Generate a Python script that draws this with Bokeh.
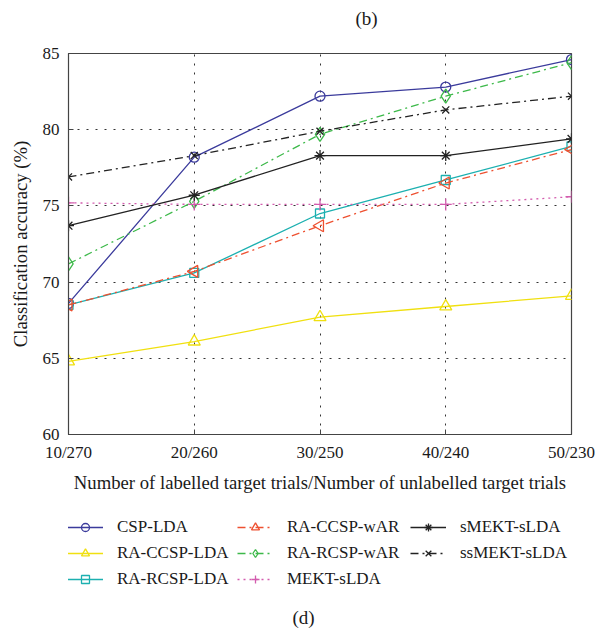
import math
from bokeh.plotting import figure
from bokeh.layouts import column
from bokeh.models import Range1d, FixedTicker, Legend, LegendItem, Label
from bokeh.embed import file_html
from bokeh.resources import INLINE

# ---------------- data ----------------
trials = ["10/270", "20/260", "30/250", "40/240", "50/230"]
y_ticks = [60, 65, 70, 75, 80, 85]

csp_lda = [68.6, 78.2, 82.2, 82.8, 84.6]
ra_ccsp_lda = [64.8, 66.1, 67.7, 68.4, 69.1]
ra_rcsp_lda = [68.5, 70.6, 74.5, 76.7, 78.9]
ra_ccsp_war = [68.5, 70.7, 73.7, 76.5, 78.7]
ra_rcsp_war = [71.2, 75.3, 79.7, 82.2, 84.4]
mekt_slda = [75.2, 75.1, 75.1, 75.1, 75.6]
smekt_slda = [73.7, 75.7, 78.3, 78.3, 79.4]
ssmekt_slda = [76.9, 78.3, 79.9, 81.3, 82.2]

FONT = "Liberation Serif"
FS = "17px"
AX = "#444444"
TXT = "#1a1a1a"
W = 600

xs = list(range(len(trials)))

series = [
    ("CSP-LDA", csp_lda, "#3b3b9c", "solid", "circle", 10, 0.0),
    ("RA-CCSP-LDA", ra_ccsp_lda, "#f0e010", "solid", "triangle", 12, 0.0),
    ("RA-RCSP-LDA", ra_rcsp_lda, "#1cb0b0", "solid", "square", 9, 0.0),
    ("RA-CCSP-wAR", ra_ccsp_war, "#ee5030", "8 4 2 4", "triangle", 12, math.pi / 2),
    ("RA-RCSP-wAR", ra_rcsp_war, "#3db94a", "8 4 2 4", "diamond", 14, 0.0),
    ("MEKT-sLDA", mekt_slda, "#d35cae", "2 4", "cross", 12, 0.0),
    ("sMEKT-sLDA", smekt_slda, "#222222", "solid", "asterisk", 11, 0.0),
    ("ssMEKT-sLDA", ssmekt_slda, "#222222", "8 4 2 4", "x", 10, 0.0),
]


def blank(h):
    f = figure(width=W, height=h, output_backend="svg", toolbar_location=None,
               x_axis_type=None, y_axis_type=None, x_range=Range1d(0, 1),
               y_range=Range1d(0, 1), min_border=0)
    f.outline_line_color = None
    f.grid.visible = False
    return f


# ---------------- top caption ----------------
p0 = blank(36)
p0.add_layout(Label(x=298, y=18, x_units="screen", y_units="screen", text="(b)",
                    text_align="center", text_baseline="middle",
                    text_font=FONT, text_font_size="19px", text_color=TXT))

# ---------------- main chart ----------------
p = figure(width=W, height=462, output_backend="svg", toolbar_location=None,
           x_range=Range1d(0, len(trials) - 1), y_range=Range1d(60, 85),
           min_border_left=68, min_border_right=29, min_border_top=17,
           min_border_bottom=64)
p.outline_line_color = AX
p.outline_line_width = 1.2

xa = p.xaxis[0]
xa.ticker = FixedTicker(ticks=xs)
xa.major_label_overrides = {i: t for i, t in enumerate(trials)}
ya = p.yaxis[0]
ya.ticker = FixedTicker(ticks=y_ticks)
for a in (xa, ya):
    a.major_tick_in = 5
    a.major_tick_out = 0
    a.minor_tick_line_color = None
    a.axis_line_color = AX
    a.major_tick_line_color = AX
    a.major_label_text_font = FONT
    a.major_label_text_font_size = FS
    a.major_label_text_color = TXT
    a.axis_label_text_font = FONT
    a.axis_label_text_font_size = "18.7px"
    a.axis_label_text_font_style = "normal"
    a.axis_label_text_color = TXT
xa.major_label_standoff = 8
ya.major_label_standoff = 9
xa.axis_label = "Number of labelled target trials/Number of unlabelled target trials"
ya.axis_label = "Classification accuracy (%)"
xa.axis_label_standoff = 7
ya.axis_label_standoff = 9

p.xgrid.ticker = FixedTicker(ticks=xs)
p.ygrid.ticker = FixedTicker(ticks=y_ticks)
for g in (p.xgrid, p.ygrid):
    g.grid_line_color = "#333333"
    g.grid_line_dash = "2 7"
    g.grid_line_width = 1

for name, vals, color, dash, marker, size, ang in series:
    p.line(xs, vals, line_color=color, line_width=1.3, line_dash=dash)
    p.scatter(xs, vals, marker=marker, size=size, angle=ang,
              line_color=color, fill_color=None, line_width=1.3)

# ---------------- legend + bottom caption ----------------
# (this figure's frame is aligned to the main frame, which starts 68 px in)
p2 = blank(131)
items = []
for name, vals, color, dash, marker, size, ang in series:
    lr = p2.line([-10, -9], [-10, -9], line_color=color, line_width=1.3, line_dash=dash)
    sr = p2.scatter([-10], [-10], marker=marker, size=size, angle=ang,
                    line_color=color, fill_color=None, line_width=1.3)
    items.append(LegendItem(label=name, renderers=[lr, sr]))

groups = [(items[0:3], -1, 40), (items[3:6], 169, 40), (items[6:8], 342, 66)]
for its, lx, ly in groups:
    lg = Legend(items=its, location=(lx, ly), orientation="vertical")
    lg.label_text_font = FONT
    lg.label_text_font_size = FS
    lg.label_text_color = TXT
    lg.glyph_width = 36
    lg.glyph_height = 20
    lg.label_height = 20
    lg.label_standoff = 14
    lg.spacing = 6
    lg.padding = 0
    lg.margin = 0
    lg.border_line_color = None
    lg.background_fill_alpha = 0
    p2.add_layout(lg)

p2.add_layout(Label(x=235, y=12, x_units="screen", y_units="screen", text="(d)",
                    text_align="center", text_baseline="middle",
                    text_font=FONT, text_font_size="19px", text_color=TXT))

layout = column(p0, p, p2, spacing=0)
open("out.html", "w").write(file_html(layout, INLINE))
